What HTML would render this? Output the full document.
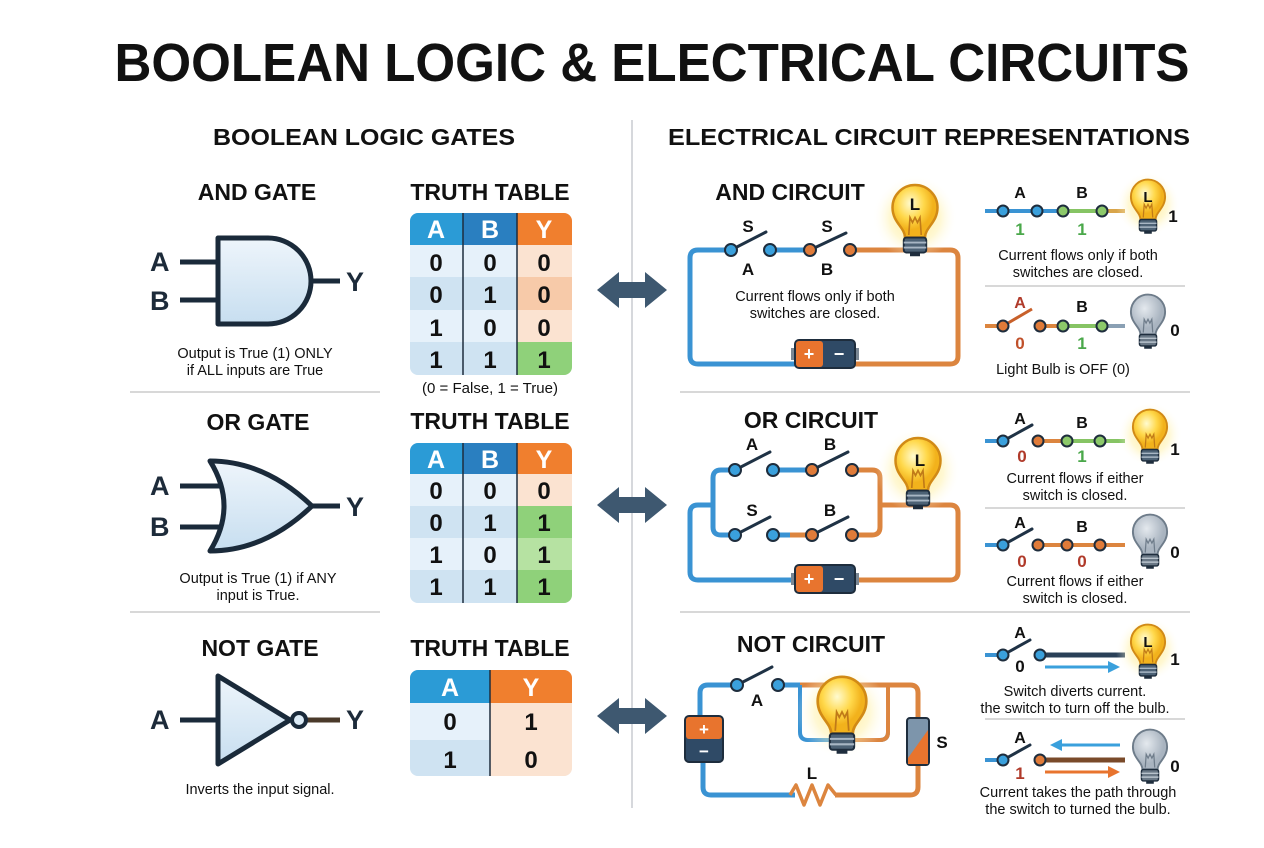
<!DOCTYPE html>
<html><head><meta charset="utf-8"><style>
html,body{margin:0;padding:0;background:#fff}
svg{display:block}
text{font-family:"Liberation Sans",sans-serif;fill:#111}
.h{font-weight:bold;font-size:23px;text-anchor:middle}
.big{font-weight:bold;font-size:27px;fill:#1d2b3a}
.t{font-size:14.5px;text-anchor:middle}
.tn{font-weight:bold;font-size:24px;text-anchor:middle}
.th{font-weight:bold;font-size:25px;text-anchor:middle;fill:#fff}
.sl{font-weight:bold;font-size:17px;text-anchor:middle}
.num{font-weight:bold;font-size:17px;text-anchor:middle}
.wb{stroke:#3a93d3;stroke-width:5;fill:none;stroke-linejoin:round}
.wo{stroke:#dc853f;stroke-width:5;fill:none;stroke-linejoin:round}
.wg{stroke:#86c464;stroke-width:4;fill:none}
.wd{stroke:#1f3245;stroke-width:3;fill:none;stroke-linecap:round}
.cb{fill:#3aa0dc;stroke:#1e2d3d;stroke-width:2}
.co{fill:#e07b39;stroke:#1e2d3d;stroke-width:2}
.cg{fill:#8cc96a;stroke:#1e2d3d;stroke-width:2}
.gate{fill:url(#gg);stroke:#1a2a3a;stroke-width:5;stroke-linejoin:round}
.gl{stroke:#1a2a3a;stroke-width:5}
</style></head><body>
<svg width="1264" height="848" viewBox="0 0 1264 848" xmlns="http://www.w3.org/2000/svg">
<defs>
<linearGradient id="gg" x1="0" y1="0" x2="0" y2="1"><stop offset="0" stop-color="#eef5fb"/><stop offset="1" stop-color="#c7def0"/></linearGradient>
<radialGradient id="glow"><stop offset="0" stop-color="#ffe680" stop-opacity=".9"/><stop offset=".6" stop-color="#fff1a8" stop-opacity=".5"/><stop offset="1" stop-color="#fff" stop-opacity="0"/></radialGradient>
<radialGradient id="glass" cx=".4" cy=".35"><stop offset="0" stop-color="#fffbd0"/><stop offset=".6" stop-color="#ffd84a"/><stop offset="1" stop-color="#f2b21c"/></radialGradient>
<radialGradient id="gglass" cx=".4" cy=".35"><stop offset="0" stop-color="#e4e9ee"/><stop offset="1" stop-color="#a9b4c0"/></radialGradient>
<g id="lit">
<circle cx="0" cy="-6" r="34" fill="url(#glow)"/>
<path d="M-8,10 C-8,2 -18,-2 -18,-14 A18,18 0 1 1 18,-14 C18,-2 8,2 8,10 Z" fill="url(#glass)" stroke="#d18a16" stroke-width="2"/>
<path d="M-5,8 L-4,-6 L-2,-2 L0,-6 L2,-2 L4,-6 L5,8" fill="none" stroke="#c07a18" stroke-width="1.3"/>
<rect x="-9" y="10" width="18" height="12" rx="2" fill="#4d6275" stroke="#1e2d3d" stroke-width="1.5"/>
<path d="M-9,14 H9 M-9,18 H9" stroke="#a8b6c4" stroke-width="1.5"/>
<rect x="-4" y="22" width="8" height="3" fill="#1e2d3d"/>
</g>
<g id="off">
<path d="M-8,10 C-8,2 -18,-2 -18,-14 A18,18 0 1 1 18,-14 C18,-2 8,2 8,10 Z" fill="url(#gglass)" stroke="#6e7c8a" stroke-width="2"/>
<path d="M-5,8 L-4,-6 L-2,-2 L0,-6 L2,-2 L4,-6 L5,8" fill="none" stroke="#6e7c8a" stroke-width="1.3"/>
<rect x="-9" y="10" width="18" height="12" rx="2" fill="#6a7886" stroke="#1e2d3d" stroke-width="1.5"/>
<path d="M-9,14 H9 M-9,18 H9" stroke="#b8c2cc" stroke-width="1.5"/>
<rect x="-4" y="22" width="8" height="3" fill="#1e2d3d"/>
</g>
<g id="bat">
<rect x="-4" y="8" width="5" height="12" fill="#7a8794"/>
<rect x="59" y="8" width="5" height="12" fill="#7a8794"/>
<rect x="0" y="0" width="60" height="28" rx="4" fill="#2f4a66" stroke="#1e2d3d" stroke-width="2"/>
<rect x="1" y="1" width="27" height="26" rx="3" fill="#e8742e"/>
<text x="14" y="20" style="font-weight:bold;font-size:18px;fill:#fff;text-anchor:middle">+</text>
<text x="44" y="20" style="font-weight:bold;font-size:18px;fill:#fff;text-anchor:middle">−</text>
</g>
<g id="dar">
<path d="M0,0 L22,-18 L22,-8 L48,-8 L48,-18 L70,0 L48,18 L48,8 L22,8 L22,18 Z" fill="#3e5870"/>
</g>
</defs>

<text x="652" y="81" style="font-weight:bold;font-size:54px;text-anchor:middle" textLength="1075" lengthAdjust="spacingAndGlyphs">BOOLEAN LOGIC &amp; ELECTRICAL CIRCUITS</text>
<text x="364" y="145" class="h" textLength="302" lengthAdjust="spacingAndGlyphs">BOOLEAN LOGIC GATES</text>
<text x="929" y="145" class="h" textLength="522" lengthAdjust="spacingAndGlyphs">ELECTRICAL CIRCUIT REPRESENTATIONS</text>

<line x1="632" y1="120" x2="632" y2="808" stroke="#c8ccd0" stroke-width="1.5"/>
<line x1="130" y1="392" x2="380" y2="392" stroke="#ccc" stroke-width="1.5"/>
<line x1="130" y1="612" x2="380" y2="612" stroke="#ccc" stroke-width="1.5"/>
<line x1="680" y1="392" x2="1190" y2="392" stroke="#ccc" stroke-width="1.5"/>
<line x1="680" y1="612" x2="1190" y2="612" stroke="#ccc" stroke-width="1.5"/>
<line x1="985" y1="286" x2="1185" y2="286" stroke="#ccc" stroke-width="1.5"/>
<line x1="985" y1="508" x2="1185" y2="508" stroke="#ccc" stroke-width="1.5"/>
<line x1="985" y1="719" x2="1185" y2="719" stroke="#ccc" stroke-width="1.5"/>

<!-- AND gate -->
<text x="257" y="200" class="h">AND GATE</text>
<line x1="180" y1="262" x2="218" y2="262" class="gl"/>
<line x1="180" y1="300" x2="218" y2="300" class="gl"/>
<line x1="310" y1="281" x2="340" y2="281" class="gl"/>
<path d="M218,238 H268 A43,43 0 0 1 268,324 H218 Z" class="gate"/>
<text x="150" y="271" class="big">A</text>
<text x="150" y="310" class="big">B</text>
<text x="346" y="291" class="big">Y</text>
<text x="255" y="358" class="t">Output is True (1) ONLY</text>
<text x="255" y="375" class="t">if ALL inputs are True</text>

<!-- OR gate -->
<text x="258" y="430" class="h">OR GATE</text>
<line x1="180" y1="486" x2="222" y2="486" class="gl"/>
<line x1="180" y1="527" x2="222" y2="527" class="gl"/>
<line x1="310" y1="506" x2="340" y2="506" class="gl"/>
<path d="M210,461 Q265,461 312,506 Q265,551 210,551 Q238,506 210,461 Z" class="gate"/>
<text x="150" y="495" class="big">A</text>
<text x="150" y="536" class="big">B</text>
<text x="346" y="516" class="big">Y</text>
<text x="258" y="583" class="t">Output is True (1) if ANY</text>
<text x="258" y="600" class="t">input is True.</text>

<!-- NOT gate -->
<text x="260" y="656" class="h">NOT GATE</text>
<line x1="180" y1="720" x2="218" y2="720" class="gl"/>
<line x1="307" y1="720" x2="340" y2="720" stroke="#4a3a2a" stroke-width="5"/>
<path d="M218,676 L290,720 L218,764 Z" class="gate"/>
<circle cx="299" cy="720" r="7" fill="#dcebf6" stroke="#1a2a3a" stroke-width="4"/>
<text x="150" y="729" class="big">A</text>
<text x="346" y="729" class="big">Y</text>
<text x="260" y="794" class="t">Inverts the input signal.</text>

<!-- Table 1 -->
<text x="490" y="200" class="h">TRUTH TABLE</text>
<g>
<rect x="410" y="213" width="162" height="162" rx="8" fill="#e6f1fa"/>
<path d="M418,213 H463 V245 H410 V221 A8,8 0 0 1 418,213 Z" fill="#2b9bd6"/>
<rect x="463" y="213" width="54" height="32" fill="#2a7fc0"/>
<path d="M517,213 H564 A8,8 0 0 1 572,221 V245 H517 Z" fill="#f07f2e"/>
<rect x="410" y="277" width="107" height="33" fill="#cfe3f2"/>
<rect x="410" y="342" width="107" height="25" fill="#cfe3f2"/>
<path d="M410,342 H517 V375 H418 A8,8 0 0 1 410,367 Z" fill="#cfe3f2"/>
<rect x="517" y="245" width="55" height="32" fill="#fbe3d1"/>
<rect x="517" y="277" width="55" height="33" fill="#f7caa9"/>
<rect x="517" y="310" width="55" height="32" fill="#fbe3d1"/>
<path d="M517,342 H572 V367 A8,8 0 0 1 564,375 H517 Z" fill="#8fd17a"/>
<line x1="463" y1="213" x2="463" y2="375" stroke="#1e2d3d" stroke-width="1.5"/>
<line x1="517" y1="213" x2="517" y2="375" stroke="#1e2d3d" stroke-width="1.5"/>
<text x="436" y="238" class="th">A</text><text x="490" y="238" class="th">B</text><text x="544" y="238" class="th">Y</text>
<text x="436" y="271" class="tn">0</text><text x="490" y="271" class="tn">0</text><text x="544" y="271" class="tn">0</text>
<text x="436" y="303" class="tn">0</text><text x="490" y="303" class="tn">1</text><text x="544" y="303" class="tn">0</text>
<text x="436" y="336" class="tn">1</text><text x="490" y="336" class="tn">0</text><text x="544" y="336" class="tn">0</text>
<text x="436" y="368" class="tn">1</text><text x="490" y="368" class="tn">1</text><text x="544" y="368" class="tn">1</text>
</g>
<text x="490" y="393" class="t" style="font-size:15px">(0 = False, 1 = True)</text>

<!-- Table 2 -->
<text x="490" y="429" class="h">TRUTH TABLE</text>
<g>
<rect x="410" y="443" width="162" height="160" rx="8" fill="#e6f1fa"/>
<path d="M418,443 H463 V474 H410 V451 A8,8 0 0 1 418,443 Z" fill="#2b9bd6"/>
<rect x="463" y="443" width="54" height="31" fill="#2a7fc0"/>
<path d="M517,443 H564 A8,8 0 0 1 572,451 V474 H517 Z" fill="#f07f2e"/>
<rect x="410" y="506" width="107" height="32" fill="#cfe3f2"/>
<path d="M410,570 H517 V603 H418 A8,8 0 0 1 410,595 Z" fill="#cfe3f2"/>
<rect x="517" y="474" width="55" height="32" fill="#fbe3d1"/>
<rect x="517" y="506" width="55" height="32" fill="#8fd17a"/>
<rect x="517" y="538" width="55" height="32" fill="#b6e2a2"/>
<path d="M517,570 H572 V595 A8,8 0 0 1 564,603 H517 Z" fill="#8fd17a"/>
<line x1="463" y1="443" x2="463" y2="603" stroke="#1e2d3d" stroke-width="1.5"/>
<line x1="517" y1="443" x2="517" y2="603" stroke="#1e2d3d" stroke-width="1.5"/>
<text x="436" y="468" class="th">A</text><text x="490" y="468" class="th">B</text><text x="544" y="468" class="th">Y</text>
<text x="436" y="499" class="tn">0</text><text x="490" y="499" class="tn">0</text><text x="544" y="499" class="tn">0</text>
<text x="436" y="531" class="tn">0</text><text x="490" y="531" class="tn">1</text><text x="544" y="531" class="tn">1</text>
<text x="436" y="563" class="tn">1</text><text x="490" y="563" class="tn">0</text><text x="544" y="563" class="tn">1</text>
<text x="436" y="595" class="tn">1</text><text x="490" y="595" class="tn">1</text><text x="544" y="595" class="tn">1</text>
</g>

<!-- Table 3 -->
<text x="490" y="656" class="h">TRUTH TABLE</text>
<g>
<rect x="410" y="670" width="162" height="106" rx="8" fill="#e6f1fa"/>
<path d="M418,670 H490 V703 H410 V678 A8,8 0 0 1 418,670 Z" fill="#2b9bd6"/>
<path d="M490,670 H564 A8,8 0 0 1 572,678 V703 H490 Z" fill="#f07f2e"/>
<rect x="490" y="703" width="82" height="37" fill="#fbe3d1"/>
<path d="M410,740 H490 V776 H418 A8,8 0 0 1 410,768 Z" fill="#cfe3f2"/>
<path d="M490,740 H572 V768 A8,8 0 0 1 564,776 H490 Z" fill="#fbe3d1"/>
<line x1="490" y1="670" x2="490" y2="776" stroke="#1e2d3d" stroke-width="1.5"/>
<text x="450" y="696" class="th">A</text><text x="531" y="696" class="th">Y</text>
<text x="450" y="730" class="tn">0</text><text x="531" y="730" class="tn">1</text>
<text x="450" y="768" class="tn">1</text><text x="531" y="768" class="tn">0</text>
</g>

<!-- arrows -->
<use href="#dar" x="597" y="290"/>
<use href="#dar" x="597" y="505"/>
<use href="#dar" x="597" y="716"/>

<!-- AND circuit -->
<text x="790" y="200" class="h">AND CIRCUIT</text>
<path d="M731,250 H698 Q690,250 690,258 V356 Q690,364 698,364 H795" class="wb"/>
<path d="M770,250 H810" class="wb"/>
<path d="M850,250 H950 Q958,250 958,258 V356 Q958,364 950,364 H855" class="wo"/>
<line x1="731" y1="250" x2="766" y2="232" class="wd"/>
<line x1="810" y1="250" x2="846" y2="233" class="wd"/>
<circle cx="731" cy="250" r="6" class="cb"/><circle cx="770" cy="250" r="6" class="cb"/>
<circle cx="810" cy="250" r="6" class="co"/><circle cx="850" cy="250" r="6" class="co"/>
<use href="#bat" x="795" y="340"/>
<use href="#lit" x="915" y="225" transform="translate(915 225) scale(1.25) translate(-915 -225)"/>
<text x="915" y="210" class="sl">L</text>
<text x="748" y="232" class="sl">S</text><text x="827" y="232" class="sl">S</text>
<text x="748" y="275" class="sl">A</text><text x="827" y="275" class="sl">B</text>
<text x="815" y="301" class="t">Current flows only if both</text>
<text x="815" y="318" class="t">switches are closed.</text>

<!-- OR circuit -->
<text x="811" y="428" class="h">OR CIRCUIT</text>
<path d="M735,470 H721 Q713,470 713,478 V527 Q713,535 721,535 H735" class="wb"/>
<path d="M713,505 H698 Q690,505 690,513 V572 Q690,580 698,580 H795" class="wb"/>
<path d="M773,470 H812 M773,535 H790" class="wb"/>
<path d="M790,535 H812" class="wo"/>
<path d="M852,470 H872 Q880,470 880,478 V527 Q880,535 872,535 H852 M880,505 H950 Q958,505 958,513 V572 Q958,580 950,580 H855" class="wo"/>
<line x1="735" y1="470" x2="770" y2="452" class="wd"/><line x1="812" y1="470" x2="848" y2="452" class="wd"/>
<line x1="735" y1="535" x2="770" y2="517" class="wd"/><line x1="812" y1="535" x2="848" y2="517" class="wd"/>
<circle cx="735" cy="470" r="6" class="cb"/><circle cx="773" cy="470" r="6" class="cb"/>
<circle cx="812" cy="470" r="6" class="co"/><circle cx="852" cy="470" r="6" class="co"/>
<circle cx="735" cy="535" r="6" class="cb"/><circle cx="773" cy="535" r="6" class="cb"/>
<circle cx="812" cy="535" r="6" class="co"/><circle cx="852" cy="535" r="6" class="co"/>
<use href="#bat" x="795" y="565"/>
<use href="#lit" transform="translate(918 478) scale(1.25)"/>
<text x="920" y="466" class="sl">L</text>
<text x="752" y="450" class="sl">A</text><text x="830" y="450" class="sl">B</text>
<text x="752" y="516" class="sl">S</text><text x="830" y="516" class="sl">B</text>

<!-- NOT circuit -->
<text x="811" y="652" class="h">NOT CIRCUIT</text>
<path d="M737,685 H708 Q700,685 700,693 V718 M703,760 V787 Q703,795 711,795 H795" class="wb"/>
<path d="M778,685 H800" class="wb"/>
<path d="M800,685 H910 Q918,685 918,693 V720 M918,765 V787 Q918,795 910,795 H835" class="wo"/>
<path d="M800,685 V732 Q800,740 808,740 H880 Q888,740 888,732 V685" fill="none" stroke="#3a93d3" stroke-width="4"/>
<path d="M840,740 H880 Q888,740 888,732 V685" fill="none" stroke="#dc853f" stroke-width="4"/>
<path d="M790,795 L796,785 L804,805 L812,785 L820,805 L828,785 L836,795" fill="none" stroke="#dc853f" stroke-width="3.5" stroke-linejoin="round"/>
<line x1="737" y1="685" x2="772" y2="667" class="wd"/>
<circle cx="737" cy="685" r="6" class="cb"/><circle cx="778" cy="685" r="6" class="cb"/>
<rect x="685" y="716" width="38" height="46" rx="4" fill="#2f4a66" stroke="#1e2d3d" stroke-width="2"/>
<rect x="686" y="717" width="36" height="22" rx="3" fill="#e8742e"/>
<text x="704" y="735" style="font-weight:bold;font-size:17px;fill:#fff;text-anchor:middle">+</text>
<text x="704" y="757" style="font-weight:bold;font-size:17px;fill:#fff;text-anchor:middle">−</text>
<rect x="907" y="718" width="22" height="47" rx="3" fill="#7d95ab" stroke="#1e2d3d" stroke-width="2"/>
<path d="M908,758 L928,730 V764 H908 Z" fill="#e8742e"/>
<use href="#lit" transform="translate(842 720) scale(1.35)"/>
<text x="757" y="706" class="sl">A</text>
<text x="812" y="779" class="sl">L</text>
<text x="942" y="748" class="sl">S</text>

<!-- Right panels AND -->
<path d="M985,211 H1037" class="wb" style="stroke-width:4"/>
<path d="M1037,211 H1063" class="wb" style="stroke-width:4"/>
<path d="M1063,211 H1115" class="wg"/>
<path d="M1102,211 H1125" stroke="#d9a54a" stroke-width="4"/>
<circle cx="1003" cy="211" r="5.5" class="cb"/><circle cx="1037" cy="211" r="5.5" class="cb"/>
<circle cx="1063" cy="211" r="5.5" class="cg"/><circle cx="1102" cy="211" r="5.5" class="cg"/>
<text x="1020" y="198" class="sl" style="font-size:16px">A</text><text x="1082" y="198" class="sl" style="font-size:16px">B</text>
<text x="1020" y="235" class="num" style="fill:#4aa84a">1</text><text x="1082" y="235" class="num" style="fill:#4aa84a">1</text>
<use href="#lit" transform="translate(1148 210) scale(0.95)"/>
<text x="1148" y="202" class="sl" style="font-size:15px">L</text>
<text x="1173" y="222" class="num">1</text>
<text x="1078" y="260" class="t">Current flows only if both</text>
<text x="1078" y="277" class="t">switches are closed.</text>

<path d="M985,326 H1003" class="wo" style="stroke-width:4"/>
<line x1="1003" y1="326" x2="1032" y2="309" stroke="#c8602a" stroke-width="3"/>
<path d="M1040,326 H1063" class="wo" style="stroke-width:4"/>
<path d="M1063,326 H1102" class="wg"/>
<path d="M1102,326 H1125" stroke="#8aa0b4" stroke-width="4"/>
<circle cx="1003" cy="326" r="5.5" class="co"/><circle cx="1040" cy="326" r="5.5" class="co"/>
<circle cx="1063" cy="326" r="5.5" class="cg"/><circle cx="1102" cy="326" r="5.5" class="cg"/>
<text x="1020" y="308" class="sl" style="font-size:16px;fill:#b03a2a">A</text><text x="1082" y="312" class="sl" style="font-size:16px">B</text>
<text x="1020" y="349" class="num" style="fill:#c0502a">0</text><text x="1082" y="349" class="num" style="fill:#4aa84a">1</text>
<use href="#off" transform="translate(1148 325) scale(0.95)"/>
<text x="1175" y="336" class="num">0</text>
<text x="1063" y="374" class="t">Light Bulb is OFF (0)</text>

<!-- Right panels OR -->
<path d="M985,441 H1003" class="wb" style="stroke-width:4"/>
<line x1="1003" y1="441" x2="1032" y2="425" class="wd"/>
<path d="M1038,441 H1067" class="wo" style="stroke-width:4"/>
<path d="M1067,441 H1125" class="wg"/>
<circle cx="1003" cy="441" r="5.5" class="cb"/><circle cx="1038" cy="441" r="5.5" class="co"/>
<circle cx="1067" cy="441" r="5.5" class="cg"/><circle cx="1100" cy="441" r="5.5" class="cg"/>
<text x="1020" y="424" class="sl" style="font-size:16px">A</text><text x="1082" y="428" class="sl" style="font-size:16px">B</text>
<text x="1022" y="462" class="num" style="fill:#b03a2a">0</text><text x="1082" y="462" class="num" style="fill:#4aa84a">1</text>
<use href="#lit" transform="translate(1150 440) scale(0.95)"/>
<text x="1175" y="455" class="num">1</text>
<text x="1075" y="483" class="t">Current flows if either</text>
<text x="1075" y="500" class="t">switch is closed.</text>

<path d="M985,545 H1003" class="wb" style="stroke-width:4"/>
<line x1="1003" y1="545" x2="1032" y2="529" class="wd"/>
<path d="M1038,545 H1125" class="wo" style="stroke-width:4"/>
<circle cx="1003" cy="545" r="5.5" class="cb"/><circle cx="1038" cy="545" r="5.5" class="co"/>
<circle cx="1067" cy="545" r="5.5" class="co"/><circle cx="1100" cy="545" r="5.5" class="co"/>
<text x="1020" y="528" class="sl" style="font-size:16px">A</text><text x="1082" y="532" class="sl" style="font-size:16px">B</text>
<text x="1022" y="567" class="num" style="fill:#b03a2a">0</text><text x="1082" y="567" class="num" style="fill:#b03a2a">0</text>
<use href="#off" transform="translate(1150 545) scale(0.95)"/>
<text x="1175" y="558" class="num">0</text>
<text x="1075" y="586" class="t">Current flows if either</text>
<text x="1075" y="603" class="t">switch is closed.</text>

<!-- Right panels NOT -->
<path d="M985,655 H1003" class="wb" style="stroke-width:4"/>
<line x1="1003" y1="655" x2="1030" y2="640" class="wd"/>
<path d="M1040,655 H1125" stroke="#2a4058" stroke-width="5"/>
<circle cx="1003" cy="655" r="5.5" class="cb"/><circle cx="1040" cy="655" r="5.5" class="cb"/>
<path d="M1045,667 H1110" stroke="#3aa0dc" stroke-width="3"/><path d="M1108,661 L1120,667 L1108,673 Z" fill="#3aa0dc"/>
<text x="1020" y="638" class="sl" style="font-size:16px">A</text>
<text x="1020" y="672" class="num">0</text>
<use href="#lit" transform="translate(1148 655) scale(0.95)"/>
<text x="1148" y="647" class="sl" style="font-size:15px">L</text>
<text x="1175" y="665" class="num">1</text>
<text x="1075" y="696" class="t">Switch diverts current.</text>
<text x="1075" y="713" class="t">the switch to turn off the bulb.</text>

<path d="M985,760 H1003" class="wb" style="stroke-width:4"/>
<line x1="1003" y1="760" x2="1030" y2="745" class="wd"/>
<path d="M1040,760 H1125" stroke="#7a4a2a" stroke-width="5"/>
<circle cx="1003" cy="760" r="5.5" class="cb"/><circle cx="1040" cy="760" r="5.5" class="co"/>
<path d="M1060,745 H1120" stroke="#3aa0dc" stroke-width="3"/><path d="M1062,739 L1050,745 L1062,751 Z" fill="#3aa0dc"/>
<path d="M1045,772 H1110" stroke="#e8742e" stroke-width="3"/><path d="M1108,766 L1120,772 L1108,778 Z" fill="#e8742e"/>
<text x="1020" y="743" class="sl" style="font-size:16px">A</text>
<text x="1020" y="779" class="num" style="fill:#b03a2a">1</text>
<use href="#off" transform="translate(1150 760) scale(0.95)"/>
<text x="1175" y="772" class="num">0</text>
<text x="1078" y="797" class="t">Current takes the path through</text>
<text x="1078" y="814" class="t">the switch to turned the bulb.</text>
</svg>
</body></html>
